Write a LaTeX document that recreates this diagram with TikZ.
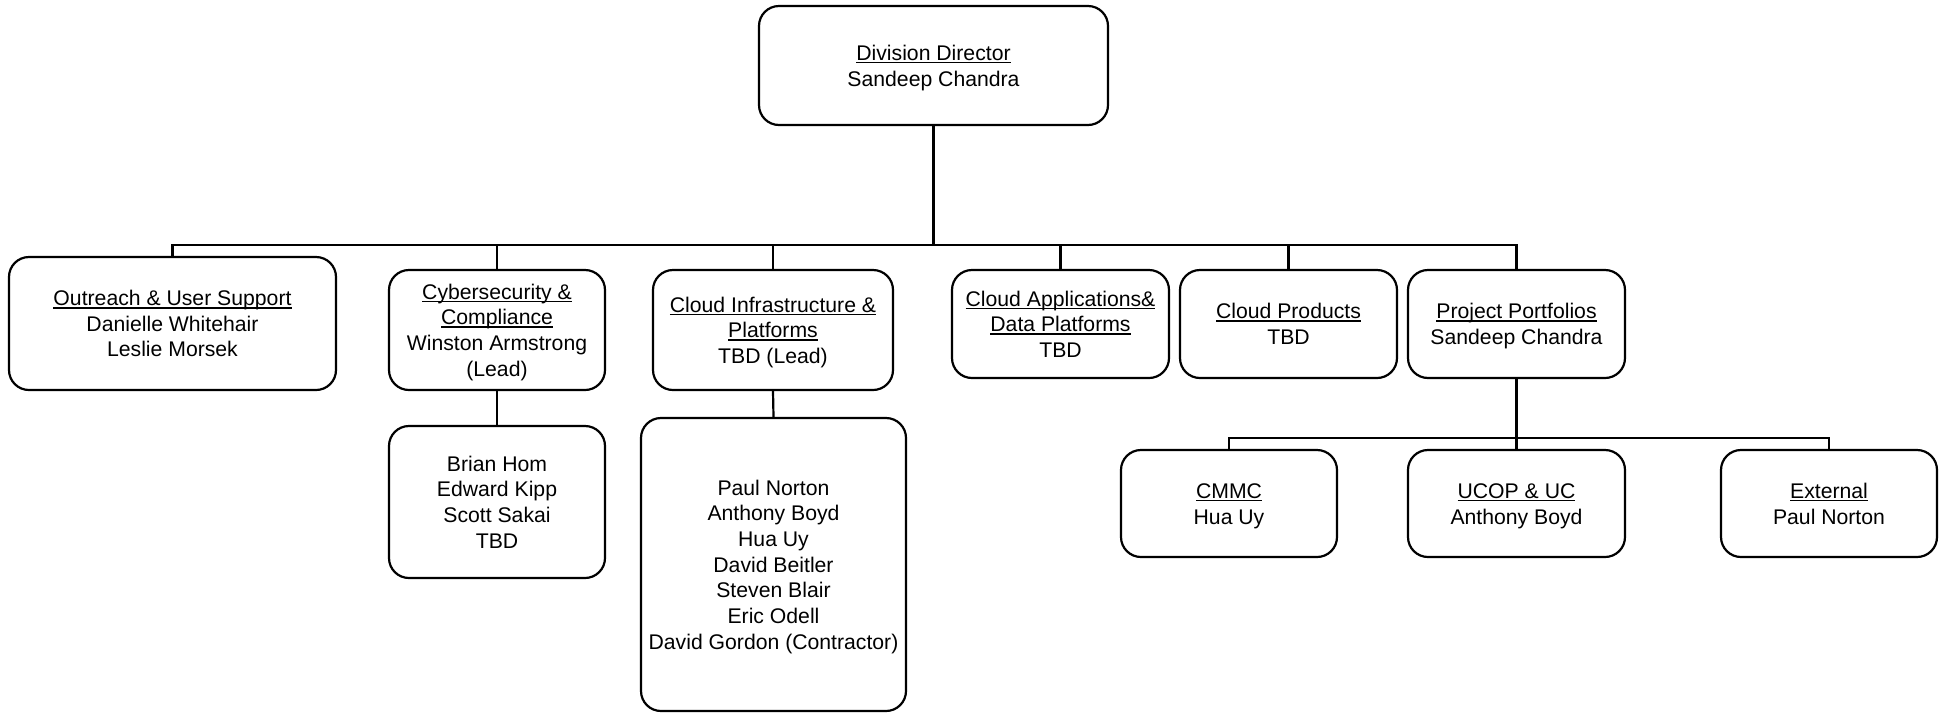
\documentclass[tikz,border=0pt]{standalone}
\usepackage{fontspec}
\setmainfont{Liberation Sans}
\newcommand\undl[1]{\setbox0\hbox{#1}\rlap{\rule[-1.5pt]{\wd0}{0.7pt}}\box0}
\newcommand\lastl[1]{\smash{#1}}
\newcommand\firstl{\rule{0pt}{0.73em}}
\begin{document}
\begin{tikzpicture}[x=0.5pt,y=-0.5pt,
  box/.style={draw=black, line width=1.1pt, rounded corners=10pt, inner sep=0pt,
    align=center, font=\fontsize{10.6pt}{12.85pt}\selectfont},
  conn/.style={draw=black, line width=1.1pt}]
\fill[white] (0,0) rectangle (1944,713);
\useasboundingbox (0,0) rectangle (1944,713);

\node[box, minimum width=174.5pt, minimum height=59.5pt] (dir) at (933.5,65.5)
  {\firstl\undl{Division Director}\\\lastl{Sandeep Chandra}};

\node[box, minimum width=163.5pt, minimum height=66.5pt] (outreach) at (172.5,323.5)
  {\firstl\undl{Outreach \& User Support}\\Danielle Whitehair\\\lastl{Leslie Morsek}};
\node[box, minimum width=108pt, minimum height=60pt] (cyber) at (497,330)
  {\firstl\undl{Cybersecurity \&}\\\undl{Compliance}\\Winston Armstrong\\\lastl{(Lead)}};
\node[box, minimum width=108pt, minimum height=76pt] (cybsub) at (497,502)
  {\firstl Brian Hom\\Edward Kipp\\Scott Sakai\\\lastl{TBD}};
\node[box, minimum width=120pt, minimum height=60pt] (infra) at (773,330)
  {\firstl\undl{Cloud Infrastructure \&}\\\undl{Platforms}\\\lastl{TBD (Lead)}};
\node[box, minimum width=132.5pt, minimum height=146.5pt] (infrasub) at (773.5,564.5)
  {\firstl Paul Norton\\Anthony Boyd\\Hua Uy\\David Beitler\\Steven Blair\\Eric Odell\\\lastl{David Gordon (Contractor)}};
\node[box, minimum width=108.5pt, minimum height=54pt] (apps) at (1060.5,324)
  {\firstl\undl{Cloud Applications\&}\\\undl{Data Platforms}\\\lastl{TBD}};
\node[box, minimum width=108.5pt, minimum height=54pt] (products) at (1288.5,324)
  {\firstl\undl{Cloud Products}\\\lastl{TBD}};
\node[box, minimum width=108.5pt, minimum height=54pt] (pp) at (1516.5,324)
  {\firstl\undl{Project Portfolios}\\\lastl{Sandeep Chandra}};

\node[box, minimum width=108pt, minimum height=53.5pt] (cmmc) at (1229,503.5)
  {\firstl\undl{CMMC}\\\lastl{Hua Uy}};
\node[box, minimum width=108.5pt, minimum height=53.5pt] (ucop) at (1516.5,503.5)
  {\firstl\undl{UCOP \& UC}\\\lastl{Anthony Boyd}};
\node[box, minimum width=108pt, minimum height=53.5pt] (ext) at (1829,503.5)
  {\firstl\undl{External}\\\lastl{Paul Norton}};

\coordinate (bus) at (0,245);
\coordinate (sbus) at (0,438);

\draw[conn] (dir.south) -- (dir.south |- bus);
\draw[conn] (outreach.north) -- (outreach.north |- bus) -- (pp.north |- bus) -- (pp.north);
\draw[conn] (cyber.north) -- (cyber.north |- bus);
\draw[conn] (infra.north) -- (infra.north |- bus);
\draw[conn] (apps.north) -- (apps.north |- bus);
\draw[conn] (products.north) -- (products.north |- bus);
\draw[conn] (cyber.south) -- (cybsub.north);
\draw[conn] (infra.south) -- (infrasub.north);

\draw[conn] (pp.south) -- (pp.south |- sbus);
\draw[conn] (cmmc.north) -- (cmmc.north |- sbus) -- (ext.north |- sbus) -- (ext.north);
\draw[conn] (ucop.north) -- (ucop.north |- sbus);
\end{tikzpicture}
\end{document}
